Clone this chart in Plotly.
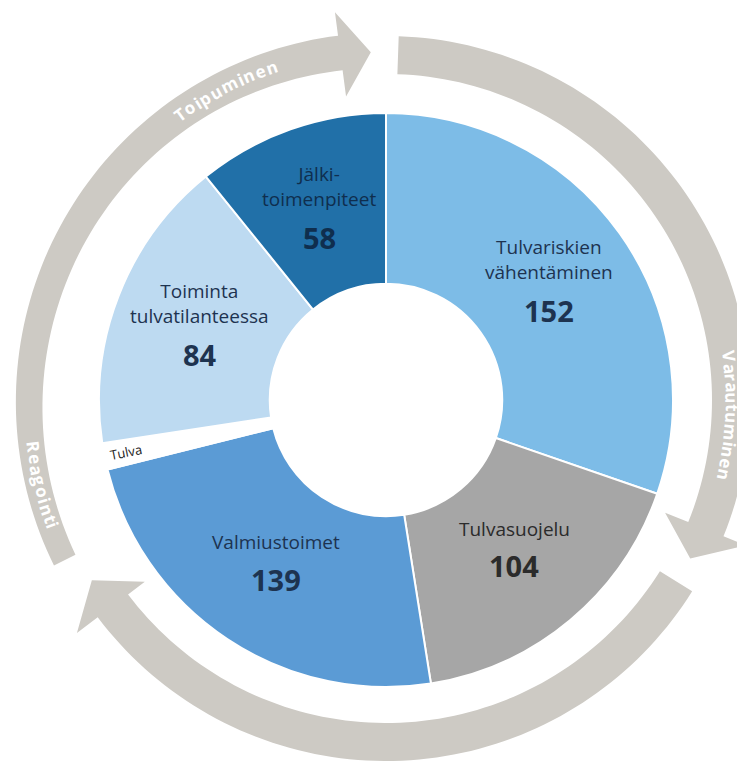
import math
import plotly.graph_objects as go

# ---------------- data ----------------
categories = ["Tulvariskien<br>vähentäminen", "Tulvasuojelu", "Valmiustoimet", "Tulva",
              "Toiminta<br>tulvatilanteessa", "Jälki-<br>toimenpiteet"]
counts = [152, 104, 139, None, 84, 58]                 # numbers printed in the slices
slice_share = [30.3, 17.2, 23.6, 1.5, 16.6, 10.8]      # share of the ring as drawn (%)
phases = ["Toipuminen", "Varautuminen", "Reagointi"]

# ---------------- style ----------------
colors = ["#7DBCE7", "#A6A6A6", "#5B9BD5", "#FFFFFF", "#BDDAF1", "#2170A8"]
text_colors = ["#1D3350", "#2B2B2B", "#1D3350", "#222222", "#1D3350", "#0F2E4E"]
ARROW = "#CDCAC4"

# the page body has an 8px margin, so the figure is 8px smaller than the window
OFF = 8
W, H = 745 - OFF, 767 - OFF
CX, CY = 386 - OFF, 400 - OFF
R_OUT = 287
HOLE = 0.405


def P(theta, r):
    """theta: degrees clockwise from 12 o'clock, r in px -> paper coords"""
    t = math.radians(theta)
    x = CX + r * math.sin(t)
    y = CY - r * math.cos(t)
    return x / W, 1 - y / H


fig = go.Figure()
fig.add_trace(go.Pie(
    labels=[c.replace("<br>", " ") for c in categories],
    values=slice_share,
    sort=False, direction="clockwise", rotation=0,
    hole=HOLE,
    marker=dict(colors=colors, line=dict(color="white", width=2)),
    textinfo="none", hoverinfo="label", showlegend=False,
    domain=dict(x=[(CX - R_OUT) / W, (CX + R_OUT) / W],
                y=[(H - CY - R_OUT) / H, (H - CY + R_OUT) / H]),
))


# ---------------- circular arrows ----------------
def arrow_path(t0, tb, tt, rc0, w0, rc1, w1, wing_in, wing_out, r_tip, n=80):
    outer, inner = [], []
    for i in range(n + 1):
        f = i / n
        th = t0 + (tb - t0) * f
        rc = rc0 + (rc1 - rc0) * f
        w = w0 + (w1 - w0) * f
        outer.append(P(th, rc + w / 2))
        inner.append(P(th, rc - w / 2))
    pts = outer + [P(tb, wing_out), P(tt, r_tip), P(tb, wing_in)] + inner[::-1]
    return "M " + " L ".join(f"{x:.5f},{y:.5f}" for x, y in pts) + " Z"


arrows = [
    (2, 112, 117.5, 345, 38, 345, 38, 301, 388, 343),
    (122, 233, 238.5, 342, 38, 342, 38, 302, 387, 345),
    (243.5, 352.5, 357.5, 359, 24, 350, 35, 306, 391, 348),
]
shapes = []
for a in arrows:
    shapes.append(dict(type="path", xref="paper", yref="paper", path=arrow_path(*a),
                       fillcolor=ARROW, line=dict(width=0), layer="below"))

annotations = []

# text along arcs
EM = {'T': .56, 'o': .61, 'i': .29, 'p': .62, 'u': .62, 'm': .94, 'n': .62, 'e': .58,
      'V': .66, 'a': .57, 'r': .43, 't': .41, 'R': .65, 'g': .55}


def arc_text(text, theta_c, span, r, clockwise, size):
    widths = [EM.get(c, .6) for c in text]
    tot = sum(widths)
    cum = 0
    for c, w in zip(text, widths):
        s = (cum + w / 2) / tot - 0.5
        cum += w
        th = theta_c + (s * span if clockwise else -s * span)
        ang = th if clockwise else th + 180
        ang = ((ang + 180) % 360) - 180
        x, y = P(th, r)
        annotations.append(dict(x=x, y=y, xref="paper", yref="paper", text=c, showarrow=False,
                                textangle=ang, xanchor="center", yanchor="middle",
                                font=dict(family="Open Sans", size=size, color="white",
                                          weight="bold")))


arc_text(phases[0], 332.6, 18.7, 352, True, 17)
arc_text(phases[1], 92.6, 21.7, 346, True, 17)
arc_text(phases[2], 256.2, 14.5, 356, False, 17)

# ---------------- slice labels ----------------
R_LAB = 200
LIFT = 6
LS, GAP = 28, 37
cum = 0
for i, share in enumerate(slice_share):
    mid = (cum + share / 2) / 100 * 360
    cum += share
    if counts[i] is None:
        # small slice label along the radius, near the outer edge
        x, y = P(mid, R_OUT - 22)
        ang = math.degrees(math.atan2(math.cos(math.radians(mid)), -math.sin(math.radians(mid))))
        annotations.append(dict(x=x, y=y, xref="paper", yref="paper", text=categories[i],
                                showarrow=False, textangle=ang, xanchor="center", yanchor="middle",
                                font=dict(family="Open Sans", size=13, color=text_colors[i])))
        continue
    t = math.radians(mid)
    ax = CX + R_LAB * math.sin(t)
    ay = CY - R_LAB * math.cos(t) - LIFT
    n_lines = categories[i].count("<br>") + 1
    total = LS * (n_lines - 1) + GAP
    first_y = ay - total / 2
    name_y = first_y + LS * (n_lines - 1) / 2
    num_y = first_y + LS * (n_lines - 1) + GAP
    annotations.append(dict(x=ax / W, y=1 - name_y / H, xref="paper", yref="paper",
                            text=categories[i], showarrow=False, xanchor="center", yanchor="middle",
                            font=dict(family="Open Sans", size=19, color=text_colors[i])))
    annotations.append(dict(x=ax / W, y=1 - num_y / H, xref="paper", yref="paper",
                            text=f"<b>{counts[i]}</b>", showarrow=False, xanchor="center",
                            yanchor="middle",
                            font=dict(family="Open Sans", size=29, color=text_colors[i])))

fig.update_layout(
    width=W, height=H,
    margin=dict(l=0, r=0, t=0, b=0),
    paper_bgcolor="white", plot_bgcolor="white",
    shapes=shapes, annotations=annotations,
    showlegend=False,
)
fig.write_html("out.html")
